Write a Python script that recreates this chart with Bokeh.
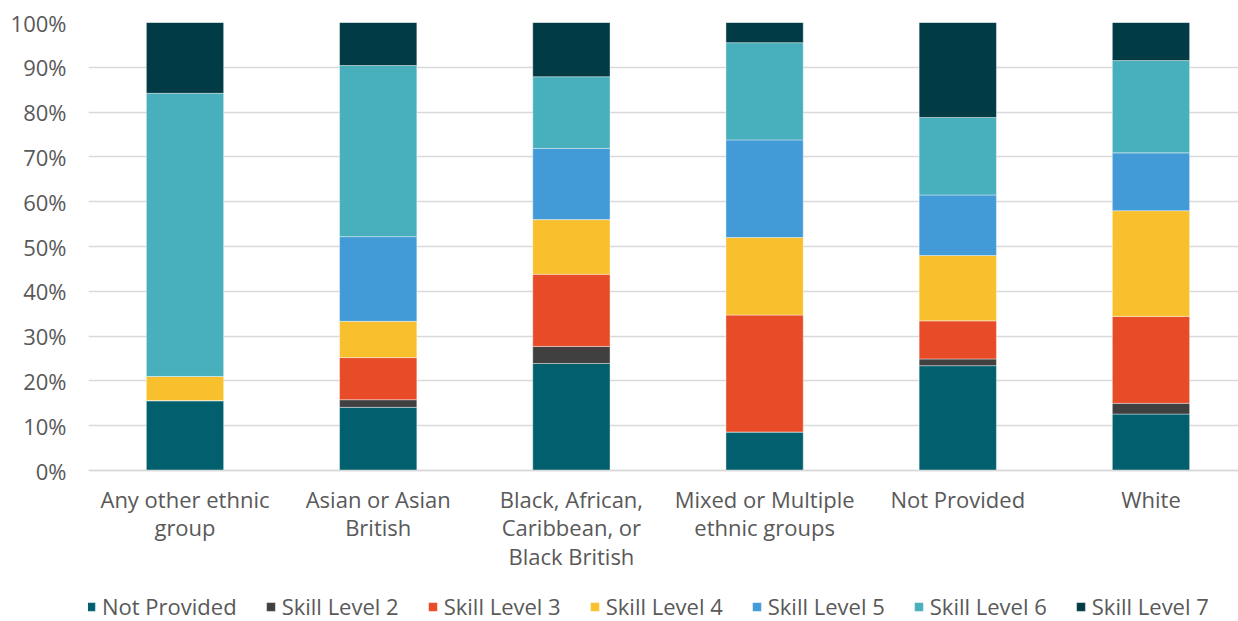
from bokeh.plotting import figure
from bokeh.models import ColumnDataSource, FixedTicker, Legend, NumeralTickFormatter, Range1d
from bokeh.embed import file_html
from bokeh.resources import INLINE

categories = [
    "Any other ethnic\ngroup",
    "Asian or Asian\nBritish",
    "Black, African,\nCaribbean, or\nBlack British",
    "Mixed or Multiple\nethnic groups",
    "Not Provided",
    "White",
]
series_names = ["Not Provided", "Skill Level 2", "Skill Level 3", "Skill Level 4",
                "Skill Level 5", "Skill Level 6", "Skill Level 7"]
not_provided = [15.6, 14.1, 23.9, 8.6, 23.4, 12.6]
skill_2 = [0.0, 1.7, 3.8, 0.0, 1.5, 2.4]
skill_3 = [0.0, 9.4, 16.1, 26.1, 8.5, 19.4]
skill_4 = [5.4, 8.1, 12.2, 17.3, 14.6, 23.6]
skill_5 = [0.0, 18.9, 15.9, 21.8, 13.5, 12.9]
skill_6 = [63.2, 38.2, 16.0, 21.7, 17.3, 20.6]
skill_7 = [15.8, 9.6, 12.1, 4.5, 21.2, 8.5]
y_ticks = [0, 0.1, 0.2, 0.3, 0.4, 0.5, 0.6, 0.7, 0.8, 0.9, 1.0]

colors = ["#02606E", "#404040", "#E84B27", "#F9C02E", "#429AD6", "#48AFBC", "#013B45"]
FONT = "Open Sans"
TEXT_COLOR = "#595959"

all_series = [not_provided, skill_2, skill_3, skill_4, skill_5, skill_6, skill_7]
keys = ["s%d" % i for i in range(len(all_series))]
data = {"x": list(range(len(categories)))}
for k, s in zip(keys, all_series):
    data[k] = [v / 100.0 for v in s]
source = ColumnDataSource(data)

# frame reaches the bottom of the window; the value axis 0..1 spans the top 448 px
p = figure(
    frame_width=1150, frame_height=599,
    x_range=Range1d(-0.4995, 5.453), y_range=Range1d(-0.33705, 1.0),
    output_backend="svg", toolbar_location=None,
    min_border_left=88, min_border_right=0, min_border_top=22, min_border_bottom=0,
)
p.outline_line_color = None
p.border_fill_color = "white"

renderers = p.vbar_stack(keys, x="x", width=0.4, source=source, color=colors,
                         line_color="white", line_width=0.4)

p.xgrid.grid_line_color = None
p.ygrid.grid_line_color = "#D9D9D9"
p.ygrid.grid_line_width = 1.5
p.ygrid.ticker = FixedTicker(ticks=y_ticks)

p.yaxis.ticker = FixedTicker(ticks=y_ticks)
p.yaxis.formatter = NumeralTickFormatter(format="0%")
p.yaxis.axis_line_color = None
p.yaxis.major_tick_line_color = None
p.yaxis.minor_tick_line_color = None
p.yaxis.major_tick_out = 0
p.yaxis.major_label_standoff = 22
p.yaxis.major_label_text_font = FONT
p.yaxis.major_label_text_font_size = "22px"
p.yaxis.major_label_text_color = TEXT_COLOR

p.xaxis.fixed_location = 0
p.xaxis.ticker = FixedTicker(ticks=list(range(len(categories))))
p.xaxis.major_label_overrides = {i: c for i, c in enumerate(categories)}
p.xaxis.axis_line_color = "#D9D9D9"
p.xaxis.axis_line_width = 1.5
p.xaxis.major_tick_line_color = None
p.xaxis.minor_tick_line_color = None
p.xaxis.major_tick_out = 0
p.xaxis.major_tick_in = 0
p.xaxis.major_label_standoff = 13
p.xaxis.major_label_text_font = FONT
p.xaxis.major_label_text_font_size = "22px"
p.xaxis.major_label_text_color = TEXT_COLOR
p.xaxis.major_label_text_line_height = 0.95

legend = Legend(
    items=[(name, [r]) for name, r in zip(series_names, renderers)],
    orientation="horizontal", location=(-3, 0),
    border_line_color=None, background_fill_alpha=0,
    label_text_font=FONT, label_text_font_size="22px", label_text_color=TEXT_COLOR,
    glyph_width=11, glyph_height=11, label_height=20, label_standoff=6, spacing=28,
    padding=3, margin=0,
)
p.add_layout(legend)

open("out.html", "w").write(file_html(p, INLINE))
